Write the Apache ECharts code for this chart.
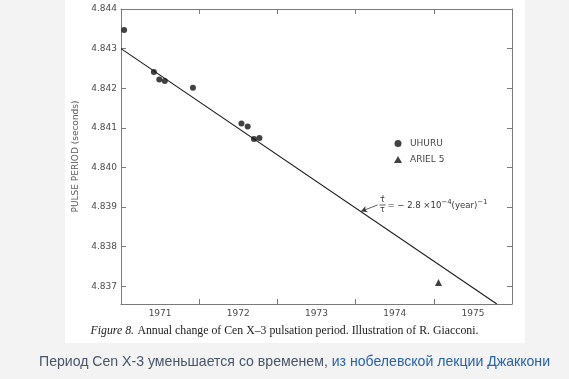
<!DOCTYPE html>
<html>
<head>
<meta charset="utf-8">
<script src="https://cdn.jsdelivr.net/npm/echarts@6/dist/echarts.min.js"></script>
<style>
html,body{margin:0;padding:0;background:#f3f3f3;}
#c{width:569px;height:379px;}
</style>
</head>
<body>
<div id="c"></div>
<script>
// ---- data ----
const uhuruYears   = [1971.04, 1971.42, 1971.49, 1971.56, 1971.92, 1972.54, 1972.62, 1972.70, 1972.77];
const uhuruPeriods = [4.84347, 4.84241, 4.84222, 4.84218, 4.84201, 4.84111, 4.84103, 4.84072, 4.84074];
const arielYears   = [1975.06];
const arielPeriods = [4.83709];
const fitYears     = [1971.0, 1975.806];
const fitPeriods   = [4.8430, 4.83655];
const yearLabels   = ['1971', '1972', '1973', '1974', '1975'];
const periodTicks  = [4.837, 4.838, 4.839, 4.840, 4.841, 4.842, 4.843, 4.844];
const yearTicks    = [1972, 1973, 1974, 1975];
const annoTail     = [1974.28, 4.83905];
const annoHead     = [1974.07, 4.83889];

const X_MIN = 1971, X_MAX = 1976, Y_MIN = 4.83655, Y_MAX = 4.844;
const labelPos = yearLabels.map(y => Number(y) + 0.5);

const chart = echarts.init(document.getElementById('c'), null, {renderer: 'canvas'});
const axisLineStyle = {color: '#7a7a7a', width: 1};
const tickFont = {color: '#4a4a4a', fontSize: 9, fontFamily: 'DejaVu Sans'};

chart.setOption({
  animation: false,
  grid: {left: 121, right: 57, top: 9, bottom: 75},
  legend: {
    orient: 'vertical', left: 394, top: 139, padding: 0, itemGap: 7, itemWidth: 8, itemHeight: 7,
    textStyle: {color: '#444', fontSize: 9, fontFamily: 'DejaVu Sans', padding: [0, 0, 0, 3]},
    data: [{name: 'UHURU', icon: 'circle'}, {name: 'ARIEL 5', icon: 'triangle'}]
  },
  xAxis: [
    {type: 'value', min: X_MIN, max: X_MAX, position: 'bottom',
     axisLine: {show: true, lineStyle: axisLineStyle},
     axisTick: {show: true, inside: true, length: 5, customValues: yearTicks, lineStyle: axisLineStyle},
     axisLabel: {show: true, customValues: labelPos, margin: 5, formatter: v => String(Math.floor(v)), ...tickFont},
     splitLine: {show: false}},
    {type: 'value', min: X_MIN, max: X_MAX, position: 'top',
     axisLine: {show: true, lineStyle: axisLineStyle},
     axisTick: {show: true, inside: true, length: 5, customValues: yearTicks, lineStyle: axisLineStyle},
     axisLabel: {show: false}, splitLine: {show: false}}
  ],
  yAxis: [
    {type: 'value', min: Y_MIN, max: Y_MAX, position: 'left',
     name: 'PULSE PERIOD (seconds)', nameLocation: 'middle', nameGap: 41,
     nameTextStyle: {color: '#5a5a5a', fontSize: 9, fontFamily: 'DejaVu Sans'},
     axisLine: {show: true, lineStyle: axisLineStyle},
     axisTick: {show: true, inside: true, length: 5, customValues: periodTicks, lineStyle: axisLineStyle},
     axisLabel: {show: true, customValues: periodTicks, margin: 4, formatter: v => v.toFixed(3), ...tickFont},
     splitLine: {show: false}},
    {type: 'value', min: Y_MIN, max: Y_MAX, position: 'right',
     axisLine: {show: true, lineStyle: axisLineStyle},
     axisTick: {show: true, inside: true, length: 5, customValues: periodTicks, lineStyle: axisLineStyle},
     axisLabel: {show: false}, splitLine: {show: false}}
  ],
  series: [
    {name: 'fit', type: 'line', showSymbol: false, symbol: 'none',
     data: fitYears.map((x, i) => [x, fitPeriods[i]]),
     lineStyle: {color: '#1a1a1a', width: 1.1}, z: 2,
     markLine: {silent: true, symbol: ['none', 'arrow'], symbolSize: [5, 6],
       lineStyle: {color: '#333', width: 0.8, type: 'solid'}, label: {show: false},
       data: [[{coord: annoTail}, {coord: annoHead}]]}
    },
    {name: 'UHURU', type: 'scatter', symbol: 'circle', symbolSize: 6,
     itemStyle: {color: '#111'}, z: 3,
     data: uhuruYears.map((x, i) => [x, uhuruPeriods[i]])},
    {name: 'ARIEL 5', type: 'scatter', symbol: 'triangle', symbolSize: 7,
     itemStyle: {color: '#111'}, z: 3,
     data: arielYears.map((x, i) => [x, arielPeriods[i]])}
  ]
});

// annotation text placed from data coordinates
const p = chart.convertToPixel({gridIndex: 0}, annoTail);
const fx = p[0] + 5, fy = p[1];
chart.setOption({
  graphic: [
    {type: 'rect', z: -10, silent: true, shape: {x: 65, y: 0, width: 460, height: 343}, style: {fill: '#ffffff'}},
    {type: 'text', left: 'center', top: 325, style: {
      text: '{i|Figure 8.} {r|Annual change of Cen X–3 pulsation period. Illustration of R. Giacconi.}',
      rich: {
        i: {fontFamily: 'Liberation Serif', fontStyle: 'italic', fontSize: 11.8, fill: '#1a1a1a'},
        r: {fontFamily: 'Liberation Serif', fontSize: 11.8, fill: '#1a1a1a'}
      }}},
    {type: 'text', left: 39, top: 355, style: {
      text: '{a|Период Cen X-3 уменьшается со временем, }{b|из нобелевской лекции Джаккони}',
      rich: {
        a: {fontFamily: 'Liberation Sans', fontSize: 14.1, fill: '#46566b'},
        b: {fontFamily: 'Liberation Sans', fontSize: 14.1, fill: '#2a62a8'}
      }}},
    {type: 'text', x: fx, y: fy - 1, style: {text: 'τ', fontSize: 8, fontFamily: 'DejaVu Sans', fill: '#333', align: 'center', verticalAlign: 'bottom'}},
    {type: 'circle', shape: {cx: fx + 0.5, cy: fy - 9, r: 0.7}, style: {fill: '#333'}},
    {type: 'line', shape: {x1: fx - 3, y1: fy, x2: fx + 3, y2: fy}, style: {stroke: '#333', lineWidth: 0.8}},
    {type: 'text', x: fx, y: fy + 1, style: {text: 'τ', fontSize: 8, fontFamily: 'DejaVu Sans', fill: '#333', align: 'center', verticalAlign: 'top'}},
    {type: 'text', x: fx + 5, y: fy + 1, style: {
      text: '{n|= − 2.8 ×10}{s|−4}{n|(year)}{s|−1}',
      verticalAlign: 'middle',
      rich: {
        n: {fontSize: 8.5, fontFamily: 'DejaVu Sans', fill: '#333'},
        s: {fontSize: 7, fontFamily: 'DejaVu Sans', fill: '#333', padding: [0, 0, 7, 0]}
      }}}
  ]
}, {replaceMerge: ['graphic']});
</script>
</body>
</html>
